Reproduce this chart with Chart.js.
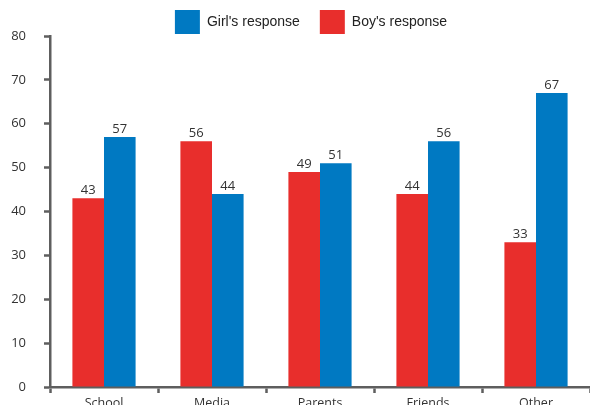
<!DOCTYPE html>
<html>
<head>
<meta charset="utf-8">
<script src="https://cdn.jsdelivr.net/npm/chart.js@4"></script>
<style>
  html, body { margin: 0; padding: 0; background: #fff; overflow: hidden; }
  #wrap { width: 590px; height: 430px; position: relative; }
</style>
</head>
<body>
<div id="wrap"><canvas id="responseChart"></canvas></div>
<script>
const categories = ['School', 'Media', 'Parents', 'Friends', 'Other'];
const boysResponse = [43, 56, 49, 44, 33];
const girlsResponse = [57, 44, 51, 56, 67];
const yTicks = [0, 10, 20, 30, 40, 50, 60, 70, 80];

const colors = {
  red: '#E82E2C',
  blue: '#0079C2',
  axis: '#5E5E5E',
  text: '#333333'
};

// Legend sits beside the top of the axis, so don't let it push the plot down,
// and centre it a little to the right of the canvas middle
const legendPlacement = {
  id: 'legendPlacement',
  beforeInit(chart) {
    const fit = chart.legend.fit;
    chart.legend.fit = function () {
      fit.call(this);
      this.height = 46;
    };
  },
  afterLayout(chart) {
    chart.legend.left += 32;
  }
};

// Value printed above every bar
const barValues = {
  id: 'barValues',
  afterDatasetsDraw(chart) {
    const ctx = chart.ctx;
    ctx.save();
    ctx.font = '13px "Open Sans", sans-serif';
    ctx.fillStyle = colors.text;
    ctx.textAlign = 'center';
    ctx.textBaseline = 'alphabetic';
    chart.data.datasets.forEach((ds, i) => {
      chart.getDatasetMeta(i).data.forEach((bar, j) => {
        ctx.fillText(ds.data[j], bar.x, bar.y - 4);
      });
    });
    ctx.restore();
  }
};

new Chart(document.getElementById('responseChart'), {
  type: 'bar',
  data: {
    labels: categories,
    datasets: [
      {
        label: "Boy's response",
        data: boysResponse,
        backgroundColor: colors.red,
        borderWidth: 0
      },
      {
        label: "Girl's response",
        data: girlsResponse,
        backgroundColor: colors.blue,
        borderWidth: 0
      }
    ]
  },
  options: {
    responsive: true,
    maintainAspectRatio: false,
    animation: false,
    datasets: {
      bar: {
        barPercentage: 1,
        categoryPercentage: 0.585
      }
    },
    layout: {
      padding: { top: -10, left: 0, right: 0, bottom: 0 }
    },
    scales: {
      x: {
        afterFit(scale) { scale.height = 43; },
        border: { color: colors.axis, width: 2.5 },
        grid: {
          drawOnChartArea: false,
          drawTicks: true,
          tickLength: 6,
          tickColor: colors.axis,
          tickWidth: 2.5
        },
        ticks: {
          color: colors.text,
          font: { family: '"Open Sans", sans-serif', size: 12.5 },
          padding: 3
        }
      },
      y: {
        min: yTicks[0],
        max: yTicks[yTicks.length - 1],
        afterFit(scale) { scale.width = 50; },
        border: { color: colors.axis, width: 2.5 },
        grid: {
          drawOnChartArea: false,
          drawTicks: true,
          tickLength: 6,
          tickColor: colors.axis,
          tickWidth: 2.5
        },
        ticks: {
          stepSize: yTicks[1] - yTicks[0],
          color: colors.text,
          font: { family: '"Open Sans", sans-serif', size: 13 },
          padding: 18
        }
      }
    },
    plugins: {
      legend: {
        position: 'top',
        reverse: true,
        labels: {
          boxWidth: 25,
          boxHeight: 24,
          padding: 20,
          color: '#222222',
          font: { family: '"Liberation Sans", Arial, sans-serif', size: 14 }
        }
      },
      tooltip: { enabled: false }
    }
  },
  plugins: [legendPlacement, barValues]
});
</script>
</body>
</html>
